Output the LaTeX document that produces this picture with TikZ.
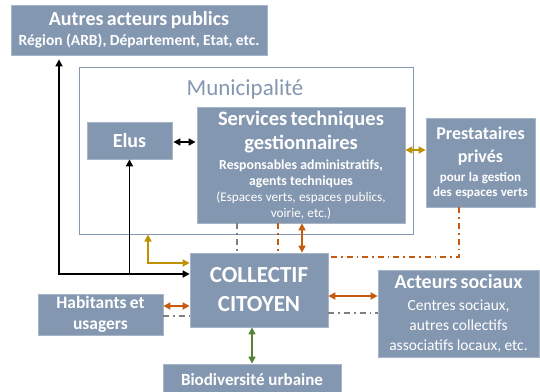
\documentclass[tikz,border=0pt]{standalone}
\usepackage{fontspec}
\setmainfont{Carlito}
\usetikzlibrary{arrows.meta}
\definecolor{boxblue}{HTML}{8497B0}
\definecolor{boxedge}{HTML}{A7B5C8}
\definecolor{orng}{HTML}{C55A11}
\definecolor{gld}{HTML}{BF9000}
\definecolor{grn}{HTML}{548235}
\definecolor{gry}{HTML}{7F7F7F}
\newcommand{\fs}[2]{\fontsize{#1}{#2}\selectfont\mdseries}
\newcommand{\fb}[2]{\fontsize{#1}{#2}\selectfont\bfseries}
\tikzset{
  box/.style={fill=boxblue, draw=boxedge, line width=0.8pt, text=white, align=center, inner sep=0pt},
  con/.style={line width=1.6pt, {Triangle[length=7pt,width=7pt]}-{Triangle[length=7pt,width=7pt]}},
  onearrow/.style={line width=1.6pt, -{Triangle[length=7pt,width=7pt]}},
  dashdot/.style={line width=1.6pt, dash pattern=on 6pt off 4pt on 1.6pt off 4pt},
}
\begin{document}
\begin{tikzpicture}[x=1pt,y=-1pt]
\useasboundingbox (0,0) rectangle (540,391);
% Municipalite frame
\node[draw=boxblue, line width=1pt, minimum width=334pt, minimum height=167pt, inner sep=0pt] (muni) at (246,150.5) {};
\node[text=boxblue, font=\fs{23}{26}] (munitext) at (245,89) {Municipalité};
% boxes
\node[box, minimum width=256pt, minimum height=50pt, text width=250pt] (autres) at (139,30)
  {\fb{20}{24}Autres acteurs publics\par \fb{15.5}{20}Région (ARB), Département, Etat, etc.\par};
\node[box, minimum width=85pt, minimum height=37pt, font=\fb{20}{24}] (elus) at (129.5,140.5) {Elus};
\node[box, minimum width=208pt, minimum height=116pt, text width=204pt] (serv) at (301,165)
  {\fb{20.5}{23.5}Services techniques\par gestionnaires\par
   \fb{13.8}{20.5}Responsables administratifs,\par \fb{13.8}{15.5}agents techniques\par
   \fs{13.2}{16}(Espaces verts, espaces publics,\par voirie, etc.)\par};
\node[box, minimum width=109pt, minimum height=89pt, text width=105pt] (prest) at (480.5,162.5)
  {\fb{18}{22}Prestataires\par \fb{18}{23}privés\par \fb{13}{19}pour la gestion\par \fb{13}{15.5}des espaces verts\par};
\node[box, minimum width=138pt, minimum height=74pt, text width=134pt] (coll) at (259,290)
  {\fb{23}{29}COLLECTIF\par CITOYEN\par};
\node[box, minimum width=125pt, minimum height=41pt, text width=121pt] (hab) at (100.5,314.5)
  {\fb{17.5}{21}Habitants et\par usagers\par};
\node[box, minimum width=161pt, minimum height=87pt, text width=159pt] (act) at (458.5,313.5)
  {\fb{20}{24}Acteurs sociaux\par \fs{15.5}{22}Centres sociaux,\par \fs{15.5}{20}autres collectifs\par \fs{15.5}{19.5}associatifs locaux, etc.\par};
\node[box, minimum width=178pt, minimum height=31pt, font=\fb{17}{20}] (bio) at (252,379.5) {Biodiversité urbaine};
% helper coordinates
\coordinate (bk) at (59,274);
\coordinate (gd) at (148,263);
% connectors
\draw[con, black, shorten <=1pt, shorten >=1pt] (elus.east |- 0,142) -- (serv.west |- 0,142);
\draw[con, gld] (serv.east |- 0,150) -- (prest.west |- 0,150);
\draw[con, black, shorten <=4pt] (autres.south -| bk) |- (coll.west |- bk);
\draw[onearrow, black] (elus.south |- bk) -- (elus.south);
\draw[con, gld] (muni.south -| gd) |- (coll.west |- gd);
\draw[con, orng] (serv.south -| 302,0) -- (coll.north -| 302,0);
\draw[dashdot, orng] (serv.south -| 278,0) -- (coll.north -| 278,0);
\draw[dashdot, gry] (serv.south -| 237,0) -- (coll.north -| 237,0);
\draw[dashdot, orng] (prest.south -| 459,0) |- (coll.east |- 0,257);
\draw[con, orng] (hab.east |- 0,306) -- (coll.west |- 0,306);
\draw[dashdot, gry] (hab.east |- 0,316) -- (coll.west |- 0,316);
\draw[con, orng] (coll.east |- 0,296) -- (act.west |- 0,296);
\draw[dashdot, gry] (coll.east |- 0,313) -- (act.west |- 0,313);
\draw[con, grn] (coll.south -| 252,0) -- (bio.north -| 252,0);
\end{tikzpicture}
\end{document}
